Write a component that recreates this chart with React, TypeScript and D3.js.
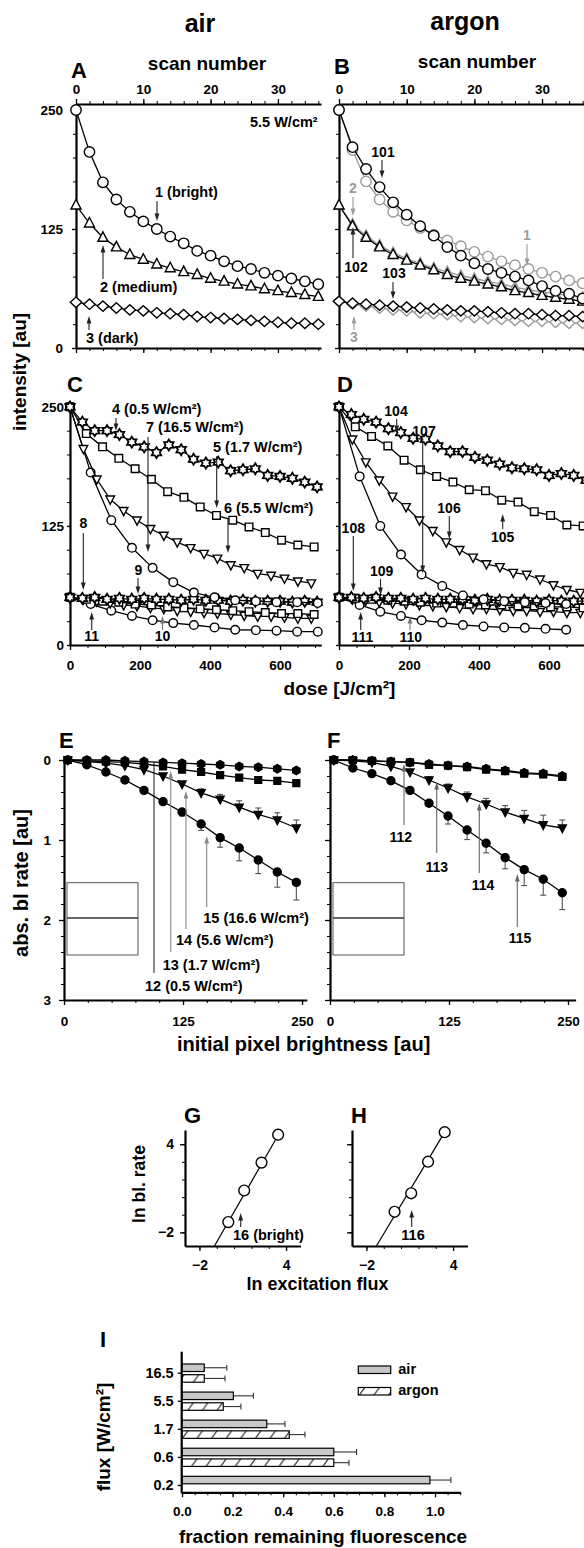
import React, { createRef, Component } from 'react';
import * as d3 from 'd3';

const FONT = "'Liberation Sans', Arial, Helvetica, sans-serif";
const GRAY = '#9b9b9b';

// ---- A, B: intensity [au] vs scan number (5.5 W/cm2)
const scans = [0, 2, 4, 6, 8, 10, 12, 14, 16, 18, 20, 22, 24, 26, 28, 30, 32, 34, 36];
const airBright = [250, 206, 174, 156, 143, 133, 125, 117, 110, 102, 97, 91, 86, 83, 79, 76, 73, 70, 67];
const airMedium = [150, 131, 116, 106, 98, 93, 88, 84, 80, 77, 73, 70, 67, 65, 62, 60, 58, 56, 54];
const airDark = [48, 46, 44, 42, 40, 39, 37, 36, 35, 33, 32, 31, 30, 29, 28, 27, 26, 26, 25];
const argonBright = [250, 211, 188, 169, 153, 140, 128, 118, 106, 97, 89, 83, 79, 75, 71, 65, 60, 57, 52];
const argonMedium = [150, 128, 116, 106, 98, 92, 87, 82, 77, 73, 70, 67, 64, 60, 58, 55, 53, 51, 49];
const argonDark = [49, 47, 46, 45, 44, 43, 42, 41, 40, 39, 39, 38, 37, 36, 36, 35, 34, 34, 33];
// grey copies of the air curves (1, 2, 3) laid under panel B
const refBright = [250, 208, 175, 156, 143, 134, 126, 119, 113, 107, 101, 96, 91, 87, 83, 79, 75, 71, 68];
const refMedium = [150, 130, 118, 108, 100, 94, 89, 84, 80, 76, 73, 70, 67, 64, 61, 59, 57, 55, 53];
const refDark = [49, 46, 44, 42, 40, 39, 37, 36, 35, 33, 32, 31, 30, 29, 28, 28, 27, 26, 26];

// ---- C, D: intensity vs dose [J/cm2], dose per scan at each flux
const step05 = 35.3;
const step17 = 46.5;
const step55 = 38.3;
const step165 = 59;
const cBright05 = [250, 234, 225, 225, 221, 213, 208, 202, 210, 205, 195, 191, 192, 183, 184, 185, 178, 177, 175, 171, 166];
const cBright17 = [250, 222, 208, 196, 185, 174, 161, 155, 145, 136, 131, 124, 118, 110, 105, 103];
const cBright55 = [250, 206, 174, 153, 141, 131, 122, 115, 108, 102, 96, 91, 84, 81, 75, 73, 70, 67, 65];
const cBright165 = [250, 181, 131, 102, 81, 66, 55, 50, 47, 46, 45, 45, 44];
const cDark05 = [50, 49, 50, 48, 49, 48, 49, 48, 48, 47, 48, 47, 47, 46, 47, 46, 46, 46, 45, 46, 45];
const cDark17 = [50, 48, 46, 45, 43, 42, 40, 39, 38, 37, 36, 35, 34, 33, 33, 32];
const cDark55 = [50, 48, 46, 44, 42, 41, 39, 38, 36, 35, 34, 33, 32, 31, 30, 30, 29, 28, 28];
const cDark165 = [50, 43, 36, 30.5, 26, 23, 21, 18.5, 16, 15.6, 15, 14, 14];
const dBright05 = [250, 242, 237, 234, 227, 223, 217, 216, 209, 203, 203, 197, 194, 190, 186, 185, 184, 178, 180, 178, 173];
const dBright17 = [250, 229, 219, 209, 194, 184, 177, 171, 163, 162, 152, 150, 140, 136, 126, 125];
const dBright55 = [250, 216, 192, 173, 156, 145, 131, 120, 108, 100, 92, 85, 82, 76, 74, 69, 63, 58, 55];
const dBright165 = [250, 177, 125, 95, 74, 62, 52, 48, 46, 45, 44, 43];
const dDark05 = [50, 50, 49, 50, 49, 49, 48, 49, 48, 48, 48, 47, 48, 47, 47, 47, 46, 47, 46, 46, 46];
const dDark17 = [50, 49, 48, 47, 46, 45, 44, 44, 43, 42, 42, 41, 41, 40, 40, 39];
const dDark55 = [50, 48, 47, 45, 44, 43, 42, 41, 40, 39, 38, 38, 37, 36, 36, 35, 35, 34, 34];
const dDark165 = [50, 42, 35, 30.5, 26, 23.5, 21, 19.5, 18.5, 18, 17, 16];

// ---- E, F: abs. bleaching rate vs initial pixel brightness
const brightness = [4, 24, 44, 64, 84, 104, 124, 144, 164, 184, 204, 224, 244];
const airRate05 = [0, 0, 0, 0.01, 0.02, 0.03, 0.04, 0.05, 0.06, 0.08, 0.09, 0.11, 0.13];
const airRate17 = [0, 0.01, 0.02, 0.03, 0.05, 0.08, 0.12, 0.15, 0.19, 0.22, 0.25, 0.26, 0.29];
const airRate56 = [0, 0.02, 0.04, 0.07, 0.12, 0.2, 0.3, 0.41, 0.49, 0.59, 0.68, 0.75, 0.85];
const airRate166 = [0, 0.06, 0.15, 0.25, 0.38, 0.52, 0.65, 0.8, 0.97, 1.1, 1.25, 1.4, 1.53];
const airErr56 = [0, 0, 0, 0, 0, 0, 0, 0.05, 0.06, 0.08, 0.08, 0.09, 0.1];
const airErr166 = [0, 0, 0, 0, 0, 0, 0.05, 0.08, 0.12, 0.16, 0.17, 0.19, 0.22];
const argonRate05 = [0, 0, 0.01, 0.02, 0.03, 0.05, 0.07, 0.08, 0.11, 0.13, 0.16, 0.17, 0.2];
const argonRate17 = [0, 0, 0.01, 0.02, 0.03, 0.06, 0.07, 0.09, 0.12, 0.14, 0.17, 0.18, 0.21];
const argonRate56 = [0, 0.01, 0.03, 0.08, 0.15, 0.25, 0.35, 0.46, 0.55, 0.65, 0.73, 0.81, 0.85];
const argonRate166 = [0, 0.1, 0.17, 0.26, 0.38, 0.54, 0.7, 0.875, 1.04, 1.22, 1.37, 1.49, 1.66];
const argonErr56 = [0, 0, 0, 0, 0, 0.04, 0.05, 0.06, 0.07, 0.08, 0.1, 0.12, 0.1];
const argonErr166 = [0, 0, 0, 0, 0, 0, 0.1, 0.12, 0.12, 0.14, 0.2, 0.2, 0.21];

// ---- G, H: ln bl. rate vs ln excitation flux (bright pixels)
const lnFluxAir = [0.0, 1.1, 2.3, 3.45];
const lnRateAir = [-1.3, 0.85, 2.75, 4.65];
const fitAir = [1.71, -1.29]; // slope, intercept
const fitAirSpan = [-0.96, 3.5];
const lnFluxArgon = [-0.05, 1.1, 2.27, 3.42];
const lnRateArgon = [-0.6, 0.66, 2.81, 4.82];
const fitArgon = [1.64, -0.78];
const fitArgonSpan = [-1.31, 3.45];

// ---- I: fraction remaining fluorescence per flux [W/cm2]
const fluxLevels = ['16.5', '5.5', '1.7', '0.6', '0.2'];
const remainAir = [0.088, 0.203, 0.335, 0.6, 0.98];
const remainAirErr = [0.089, 0.079, 0.072, 0.09, 0.083];
const remainArgon = [0.088, 0.163, 0.424, 0.6, null];
const remainArgonErr = [0.082, 0.07, 0.062, 0.06, null];

function shapePath(shape: string, r: number): string {
  if (shape === 'square') return `M${-r},${-r}H${r}V${r}H${-r}Z`;
  if (shape === 'triUp') return `M0,${-r * 1.15}L${r},${r * 0.75}L${-r},${r * 0.75}Z`;
  if (shape === 'triDown') return `M0,${r * 1.15}L${r},${-r * 0.75}L${-r},${-r * 0.75}Z`;
  if (shape === 'diamond') return `M0,${-r}L${r * 1.1},0L0,${r}L${-r * 1.1},0Z`;
  if (shape === 'hexagon') {
    const p = d3.range(6).map(k => {
      const a = Math.PI / 6 + (k * Math.PI) / 3;
      return [r * Math.cos(a), r * Math.sin(a)];
    });
    return 'M' + p.join('L') + 'Z';
  }
  if (shape === 'star6') {
    const p = d3.range(12).map(k => {
      const a = -Math.PI / 2 + (k * Math.PI) / 6;
      const rr = k % 2 ? r * 0.6 : r;
      return [rr * Math.cos(a), rr * Math.sin(a)];
    });
    return 'M' + p.join('L') + 'Z';
  }
  return `M${r},0A${r},${r},0,1,1,${-r},0A${r},${r},0,1,1,${r},0Z`;
}

class BleachingFigure extends Component {
  ref = createRef<SVGSVGElement>();

  componentDidMount() {
    this.draw();
  }

  draw() {
    const svg = d3.select(this.ref.current);
    svg.selectAll('*').remove();

    const label = (x, y, s, size = 14.5, anchor = 'middle', color = '#000') =>
      svg.append('text')
        .attr('x', x).attr('y', y)
        .attr('font-family', FONT).attr('font-weight', 'bold')
        .attr('font-size', size).attr('text-anchor', anchor)
        .attr('fill', color).text(s);

    const vlabel = (x, y, s, size) =>
      svg.append('text')
        .attr('transform', `translate(${x},${y}) rotate(-90)`)
        .attr('font-family', FONT).attr('font-weight', 'bold')
        .attr('font-size', size).attr('text-anchor', 'middle').text(s);

    const arrow = (x, y1, y2, color = '#222', head = true) => {
      const dir = y2 > y1 ? 1 : -1;
      svg.append('line')
        .attr('x1', x).attr('x2', x).attr('y1', y1).attr('y2', head ? y2 - dir * 5 : y2)
        .attr('stroke', color).attr('stroke-width', 1.1);
      if (head) {
        svg.append('path')
          .attr('d', `M${x - 2.4},${y2 - dir * 7.5}L${x + 2.4},${y2 - dir * 7.5}L${x},${y2}Z`)
          .attr('fill', color);
      }
    };

    const axis = (gen, tx, ty, size = 13.5) => {
      const g = svg.append('g').attr('transform', `translate(${tx},${ty})`).call(gen);
      g.select('.domain').attr('stroke', '#000').attr('stroke-width', 2.2);
      g.selectAll('.tick line').attr('stroke', '#000').attr('stroke-width', 1.3);
      g.selectAll('.tick text')
        .attr('font-family', FONT).attr('font-weight', 'bold')
        .attr('font-size', size).attr('fill', '#000');
      return g;
    };
    const minor = (gen, tx, ty) => {
      const g = svg.append('g').attr('transform', `translate(${tx},${ty})`).call(gen.tickFormat(() => ''));
      g.select('.domain').remove();
      g.selectAll('.tick line').attr('stroke', '#000').attr('stroke-width', 1);
    };

    const plot = (pts, shape, r, color = '#000', fill = '#fff', lw = 1.3, sw = 1.4) => {
      if (lw > 0) {
        svg.append('path').attr('d', d3.line()(pts))
          .attr('fill', 'none').attr('stroke', color).attr('stroke-width', lw);
      }
      svg.append('g').selectAll('path').data(pts).join('path')
        .attr('transform', d => `translate(${d[0]},${d[1]})`)
        .attr('d', shapePath(shape, r))
        .attr('fill', fill).attr('stroke', color).attr('stroke-width', sw);
    };

    // ================= A, B
    const yScan = d3.scaleLinear().domain([0, 256.3]).range([348, 104]);
    const xA = d3.scaleLinear().domain([0, 36.4]).range([76, 321]);
    const xB = d3.scaleLinear().domain([0, 36.2]).range([339, 584]);
    [[xA, true], [xB, false]].forEach(([x, withY]: any) => {
      const x0 = x.range()[0];
      axis(d3.axisTop(x).tickValues([0, 10, 20, 30]).tickSize(5).tickPadding(5).tickSizeOuter(0), 0, 104);
      minor(d3.axisTop(x).tickValues(d3.range(0, 37, 2)).tickSize(3), 0, 104);
      axis(d3.axisBottom(x).tickValues([0, 10, 20, 30]).tickSize(5).tickSizeOuter(0).tickFormat(() => ''), 0, 348);
      minor(d3.axisBottom(x).tickValues(d3.range(0, 37, 2)).tickSize(3), 0, 348);
      axis(d3.axisLeft(yScan).tickValues([0, 125, 250]).tickSize(4).tickPadding(9).tickSizeOuter(0)
        .tickFormat(withY ? d3.format('d') : () => ''), x0, 0);
      minor(d3.axisLeft(yScan).tickValues(d3.range(0, 251, 25)).tickSize(3), x0, 0);
    });
    const ptsA = vals => vals.map((v, i) => [xA(scans[i]), yScan(v)]);
    const ptsB = vals => vals.map((v, i) => [xB(scans[i]), yScan(v)]);
    plot(ptsA(airDark), 'diamond', 5.2);
    plot(ptsA(airMedium), 'triUp', 5);
    plot(ptsA(airBright), 'circle', 5.2);
    plot(ptsB(refDark), 'diamond', 5.2, GRAY);
    plot(ptsB(refMedium), 'triUp', 5, GRAY);
    plot(ptsB(refBright), 'circle', 5.2, GRAY);
    plot(ptsB(argonDark), 'diamond', 5.2);
    plot(ptsB(argonMedium), 'triUp', 5);
    plot(ptsB(argonBright), 'circle', 5.2);

    label(200, 32, 'air', 25);
    label(465, 30, 'argon', 25);
    label(71, 78, 'A', 22, 'start');
    label(334, 74, 'B', 22, 'start');
    label(207, 70, 'scan number', 19);
    label(477, 68, 'scan number', 19);
    label(250, 127, '5.5 W/cm²', 14.5, 'start');
    label(155, 197, '1 (bright)', 14.5, 'start');
    arrow(157, 201, 221);
    label(100, 292, '2 (medium)', 14.5, 'start');
    arrow(103, 279, 245);
    label(86, 343, '3 (dark)', 14.5, 'start');
    arrow(89, 330, 316);
    label(383, 157, '101', 14);
    arrow(382, 160, 178);
    label(353, 193, '2', 14, 'middle', GRAY);
    arrow(353, 197, 216, GRAY);
    label(356, 272, '102', 14);
    arrow(353, 258, 227);
    label(394, 278, '103', 14);
    arrow(393, 282, 299);
    label(527, 240, '1', 14, 'middle', GRAY);
    arrow(527, 244, 266, GRAY);
    label(354, 342, '3', 14, 'middle', GRAY);
    arrow(354, 330, 316, GRAY);
    vlabel(26, 372, 'intensity [au]', 19);

    // ================= C, D
    const yDose = d3.scaleLinear().domain([0, 253]).range([645, 404]);
    const xC = d3.scaleLinear().domain([0, 718]).range([70, 321.3]);
    const xD = d3.scaleLinear().domain([0, 700]).range([339, 584]);
    [[xC, true], [xD, false]].forEach(([x, withY]: any) => {
      const x0 = x.range()[0];
      axis(d3.axisBottom(x).tickValues([0, 200, 400, 600]).tickSize(5).tickPadding(10).tickSizeOuter(0), 0, 645);
      minor(d3.axisBottom(x).tickValues(d3.range(0, 701, 50)).tickSize(3), 0, 645);
      axis(d3.axisLeft(yDose).tickValues([0, 125, 250]).tickSize(3).tickPadding(3).tickSizeOuter(0)
        .tickFormat(withY ? d3.format('d') : () => ''), x0, 0);
      minor(d3.axisLeft(yDose).tickValues(d3.range(0, 251, 25)).tickSize(3), x0, 0);
    });
    const dosePts = (x, vals, step) => vals.map((v, i) => [x(i * step), yDose(v)]);
    [[xC, cDark165, cDark55, cDark17, cDark05, cBright165, cBright55, cBright17, cBright05],
     [xD, dDark165, dDark55, dDark17, dDark05, dBright165, dBright55, dBright17, dBright05]]
      .forEach(([x, k165, k55, k17, k05, b165, b55, b17, b05]: any) => {
        plot(dosePts(x, k165, step165), 'circle', 4.3);
        plot(dosePts(x, k55, step55), 'triDown', 4.3);
        plot(dosePts(x, k17, step17), 'square', 3.8);
        plot(dosePts(x, k05, step05), 'star6', 5.5, '#000', '#fff', 1.3, 1.8);
        plot(dosePts(x, b165, step165), 'circle', 4.3);
        plot(dosePts(x, b55, step55), 'triDown', 4.3);
        plot(dosePts(x, b17, step17), 'square', 3.8);
        plot(dosePts(x, b05, step05), 'star6', 5.5, '#000', '#fff', 1.3, 1.8);
      });

    label(67, 392, 'C', 22, 'start');
    label(337, 392, 'D', 22, 'start');
    label(112, 414, '4 (0.5 W/cm²)', 14.5, 'start');
    arrow(116, 418, 431);
    label(146, 432, '7 (16.5 W/cm²)', 14.5, 'start');
    arrow(148, 437, 552);
    label(213, 452, '5 (1.7 W/cm²)', 14.5, 'start');
    arrow(216.7, 456, 508);
    label(224, 513, '6 (5.5 W/cm²)', 14.5, 'start');
    arrow(228, 518, 553);
    label(83.5, 528, '8', 14);
    arrow(83.3, 533, 590);
    label(138.3, 575, '9', 14);
    arrow(138, 578, 594);
    label(91.7, 641, '11', 14);
    arrow(91.7, 630, 612);
    label(162.5, 641, '10', 14);
    arrow(162.5, 630, 616, '#777');
    label(396, 416, '104', 14);
    arrow(396.7, 419, 433);
    label(424, 436, '107', 14);
    arrow(422.7, 439, 573);
    label(449, 512.5, '106', 14);
    arrow(449.3, 516, 539);
    label(502.7, 541.5, '105', 14);
    arrow(502.7, 529, 514);
    label(353.3, 532.5, '108', 14);
    arrow(353.3, 536, 591);
    label(381.7, 576, '109', 14);
    arrow(380.5, 579, 595);
    label(362.5, 641.5, '111', 14);
    arrow(360.7, 630, 612);
    label(410.8, 641.5, '110', 14);
    arrow(410, 630, 616, '#777');
    label(339.5, 695, 'dose [J/cm²]', 19);

    // ================= E, F
    const yRate = d3.scaleLinear().domain([0, 3]).range([760, 1000]);
    const xE = d3.scaleLinear().domain([0, 255]).range([64, 306.8]);
    const xF = d3.scaleLinear().domain([0, 258]).range([330, 575.6]);
    [[xE, true], [xF, false]].forEach(([x, withY]: any) => {
      const x0 = x.range()[0];
      axis(d3.axisBottom(x).tickValues([0, 125, 250]).tickSize(5).tickPadding(11).tickSizeOuter(0), 0, 1000);
      minor(d3.axisBottom(x).tickValues(d3.range(0, 251, 25)).tickSize(3), 0, 1000);
      axis(d3.axisLeft(yRate).tickValues([0, 1, 2, 3]).tickSize(5).tickPadding(8).tickSizeOuter(0)
        .tickFormat(withY ? d3.format('d') : () => ''), x0, 0);
      minor(d3.axisLeft(yRate).tickValues(d3.range(0, 3.01, 0.2)).tickSize(3), x0, 0);
      // empty legend box left in the panel
      svg.append('rect').attr('x', x0 + 3).attr('y', 882.7).attr('width', 71).attr('height', 72.3)
        .attr('fill', 'none').attr('stroke', '#555').attr('stroke-width', 1);
      svg.append('line').attr('x1', x0 + 3).attr('x2', x0 + 74).attr('y1', 918).attr('y2', 918)
        .attr('stroke', '#333').attr('stroke-width', 1.6);
    });
    const errorBars = (x, vals, errs, sign) => {
      brightness.forEach((b, i) => {
        if (!errs[i]) return;
        const X = x(b);
        const Y2 = yRate(vals[i] + sign * errs[i]);
        svg.append('line').attr('x1', X).attr('x2', X).attr('y1', yRate(vals[i])).attr('y2', Y2)
          .attr('stroke', '#444').attr('stroke-width', 1);
        svg.append('line').attr('x1', X - 3).attr('x2', X + 3).attr('y1', Y2).attr('y2', Y2)
          .attr('stroke', '#444').attr('stroke-width', 1);
      });
    };
    const ratePts = (x, vals) => vals.map((v, i) => [x(brightness[i]), yRate(v)]);
    [[xE, airRate05, airRate17, airRate56, airRate166, airErr56, airErr166],
     [xF, argonRate05, argonRate17, argonRate56, argonRate166, argonErr56, argonErr166]]
      .forEach(([x, r05, r17, r56, r166, e56, e166]: any) => {
        errorBars(x, r56, e56, -1);
        errorBars(x, r166, e166, 1);
        plot(ratePts(x, r05), 'hexagon', 4.2, '#000', '#000');
        plot(ratePts(x, r17), 'square', 3.4, '#000', '#000');
        plot(ratePts(x, r56), 'triDown', 4, '#000', '#000');
        plot(ratePts(x, r166), 'circle', 4, '#000', '#000');
      });

    label(59, 748, 'E', 22, 'start');
    label(327, 748, 'F', 22, 'start');
    svg.append('line').attr('x1', 154).attr('x2', 154).attr('y1', 973).attr('y2', 762)
      .attr('stroke', '#111').attr('stroke-width', 1);
    label(145, 991, '12 (0.5 W/cm²)', 14.5, 'start');
    label(162.7, 969.5, '13 (1.7 W/cm²)', 14.5, 'start');
    arrow(170.7, 952, 771, '#888');
    label(176, 944.5, '14 (5.6 W/cm²)', 14.5, 'start');
    arrow(186, 929, 791, '#888');
    label(203.3, 923, '15 (16.6 W/cm²)', 14.5, 'start');
    arrow(206.7, 907, 836, '#888');
    label(400.7, 841.5, '112', 14);
    arrow(404, 825, 764, '#666');
    label(436.7, 871.5, '113', 14);
    arrow(436.7, 853, 782, '#666');
    label(483, 890, '114', 14);
    arrow(479.3, 873, 803, '#666');
    label(520, 943, '115', 14);
    arrow(517.3, 927, 874, '#666');
    vlabel(28, 883, 'abs. bl rate [au]', 20);
    label(177, 1051, 'initial pixel brightness [au]', 20, 'start');

    // ================= G, H
    const yLn = d3.scaleLinear().domain([-2.93, 4.97]).range([1246, 1130]);
    const xG = d3.scaleLinear().domain([-3, 5]).range([185, 300.5]);
    const xH = d3.scaleLinear().domain([-3, 5]).range([352, 467.5]);
    [[xG, true, lnFluxAir, lnRateAir, fitAir, fitAirSpan],
     [xH, false, lnFluxArgon, lnRateArgon, fitArgon, fitArgonSpan]]
      .forEach(([x, withY, fx, fy, fit, span]: any) => {
        const x0 = x.range()[0];
        axis(d3.axisBottom(x).tickValues([-2, 4]).tickSize(5).tickPadding(9).tickSizeOuter(0), 0, 1246, 14);
        minor(d3.axisBottom(x).tickValues(d3.range(-2, 4.01, 1.2)).tickSize(3), 0, 1246);
        axis(d3.axisLeft(yLn).tickValues([-2, 4]).tickSize(5).tickPadding(6).tickSizeOuter(0)
          .tickFormat(withY ? null : () => ''), x0, 0, 14);
        minor(d3.axisLeft(yLn).tickValues(d3.range(-2, 4.01, 1.2)).tickSize(3), x0, 0);
        const [m, b] = fit;
        svg.append('path')
          .attr('d', d3.line()(span.map(s => [x(s), yLn(m * s + b)])))
          .attr('fill', 'none').attr('stroke', '#000').attr('stroke-width', 1.2);
        plot(fx.map((v, i) => [x(v), yLn(fy[i])]), 'circle', 5.4, '#000', '#fff', 0);
      });
    label(184, 1123, 'G', 22, 'start');
    label(351, 1123, 'H', 22, 'start');
    label(233, 1240, '16 (bright)', 14.5, 'start');
    arrow(240.7, 1227, 1213);
    label(413, 1239.5, '116', 14.5);
    arrow(411.7, 1227, 1210);
    vlabel(145, 1184, 'ln bl. rate', 17.5);
    label(317.5, 1290, 'ln excitation flux', 18);

    // ================= I
    const xI = d3.scaleLinear().domain([0, 1.1]).range([182, 460.3]);
    const yI = d3.scalePoint().domain(fluxLevels).range([1372.7, 1485]);
    const pat = svg.append('defs').append('pattern').attr('id', 'hatch')
      .attr('patternUnits', 'userSpaceOnUse').attr('width', 14.6).attr('height', 20.4);
    pat.append('rect').attr('width', 14.6).attr('height', 20.4).attr('fill', '#fff');
    pat.append('path').attr('d', 'M0,20.4L14.6,0M-14.6,20.4L0,0M14.6,20.4L29.2,0')
      .attr('stroke', '#222').attr('stroke-width', 1.1);

    const bar = (v, err, y, fill) => {
      const yc = y + 3.75;
      svg.append('line').attr('x1', xI(v)).attr('x2', xI(v + err)).attr('y1', yc).attr('y2', yc)
        .attr('stroke', '#333').attr('stroke-width', 1.1);
      svg.append('line').attr('x1', xI(v + err)).attr('x2', xI(v + err)).attr('y1', yc - 3).attr('y2', yc + 3)
        .attr('stroke', '#333').attr('stroke-width', 1.1);
      svg.append('rect').attr('x', xI(0)).attr('y', y).attr('width', xI(v) - xI(0)).attr('height', 7.5)
        .attr('fill', fill).attr('stroke', '#000').attr('stroke-width', 1.2);
    };
    fluxLevels.forEach((f, i) => {
      const c = yI(f);
      bar(remainAir[i], remainAirErr[i], c - 8.7, '#c8c8c8');
      if (remainArgon[i] != null) bar(remainArgon[i], remainArgonErr[i], c + 2, 'url(#hatch)');
    });
    axis(d3.axisBottom(xI).tickValues([0, 0.2, 0.4, 0.6, 0.8, 1.0]).tickFormat(d3.format('.1f'))
      .tickSize(5).tickPadding(9).tickSizeOuter(0), 0, 1492.3, 13.5);
    minor(d3.axisBottom(xI).tickValues(d3.range(0, 1.101, 0.05)).tickSize(3), 0, 1492.3);
    const gy = axis(d3.axisLeft(yI).tickSize(4).tickPadding(4).tickSizeOuter(0), 181.7, 0, 14.5);
    gy.select('.domain').remove();
    svg.append('line').attr('x1', 181.7).attr('x2', 181.7).attr('y1', 1351.7).attr('y2', 1493.4)
      .attr('stroke', '#000').attr('stroke-width', 2.2);

    svg.append('rect').attr('x', 358.3).attr('y', 1366).attr('width', 32.4).attr('height', 7.5)
      .attr('fill', '#c8c8c8').attr('stroke', '#000').attr('stroke-width', 1.2);
    label(398.3, 1374, 'air', 14.5, 'start');
    svg.append('rect').attr('x', 358.3).attr('y', 1387.5).attr('width', 32.4).attr('height', 7.5)
      .attr('fill', 'url(#hatch)').attr('stroke', '#000').attr('stroke-width', 1.2);
    label(398.3, 1395, 'argon', 14.5, 'start');

    label(100, 1347, 'I', 22, 'start');
    vlabel(110, 1437, 'flux [W/cm²]', 19);
    label(323, 1543, 'fraction remaining fluorescence', 19);
  }

  render() {
    return (
      <svg
        ref={this.ref}
        width={584}
        height={1548}
        viewBox="0 0 584 1548"
        style={{ position: 'absolute', left: 0, top: 0, background: '#fff' }}
      />
    );
  }
}

export default function App() {
  return <BleachingFigure />;
}
